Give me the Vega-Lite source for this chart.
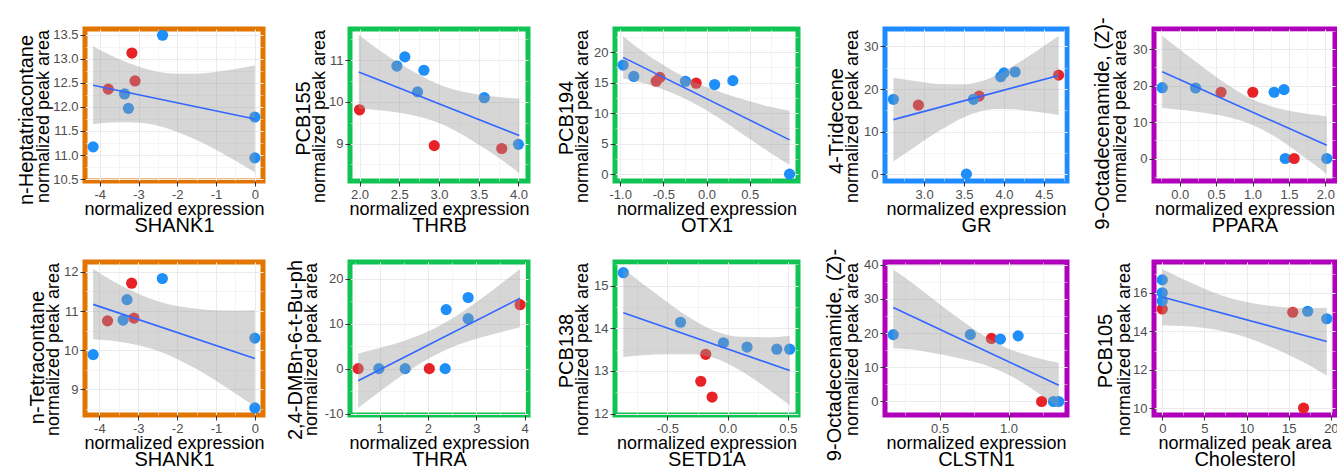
{
  "$schema": "https://vega.github.io/schema/vega-lite/v6.json",
  "background": "white",
  "padding": {"left": 13, "top": 14, "right": 5, "bottom": 5},
  "columns": 5,
  "spacing": {"row": 81, "column": 87},
  "bounds": "flush",
  "datasets": {
    "p1": [
      {"k":"pt","x":-4.17,"y":11.17,"g":"1"},{"k":"pt","x":-2.38,"y":13.49,"g":"1"},{"k":"pt","x":-3.36,"y":12.27,"g":"1"},{"k":"pt","x":-3.26,"y":11.97,"g":"1"},{"k":"pt","x":0,"y":11.79,"g":"1"},{"k":"pt","x":0,"y":10.94,"g":"1"},{"k":"pt","x":-3.17,"y":13.12,"g":"2"},{"k":"pt","x":-3.09,"y":12.54,"g":"2"},{"k":"pt","x":-3.78,"y":12.37,"g":"2"},
      {"k":"fit","x":-4.17,"y":12.45},{"k":"fit","x":0,"y":11.75},
      {"k":"band","x":-4.17,"lo":11.64,"hi":13.26},{"k":"band","x":-3.5,"lo":11.68,"hi":12.99},{"k":"band","x":-3.0,"lo":11.67,"hi":12.84},{"k":"band","x":-2.5,"lo":11.61,"hi":12.73},{"k":"band","x":-2.0,"lo":11.48,"hi":12.69},{"k":"band","x":-1.5,"lo":11.31,"hi":12.69},{"k":"band","x":-1.0,"lo":11.11,"hi":12.73},{"k":"band","x":-0.5,"lo":10.88,"hi":12.79},{"k":"band","x":0,"lo":10.64,"hi":12.86}
    ],
    "p2": [
      {"k":"pt","x":2.0,"y":9.81,"g":"2"},{"k":"pt","x":2.57,"y":11.08,"g":"1"},{"k":"pt","x":2.47,"y":10.86,"g":"1"},{"k":"pt","x":2.81,"y":10.76,"g":"1"},{"k":"pt","x":2.73,"y":10.24,"g":"1"},{"k":"pt","x":2.94,"y":8.95,"g":"2"},{"k":"pt","x":3.57,"y":10.10,"g":"1"},{"k":"pt","x":3.79,"y":8.88,"g":"2"},{"k":"pt","x":4.0,"y":8.98,"g":"1"},
      {"k":"fit","x":1.99,"y":10.72},{"k":"fit","x":4.01,"y":9.19},
      {"k":"band","x":1.99,"lo":9.84,"hi":11.61},{"k":"band","x":2.25,"lo":9.80,"hi":11.24},{"k":"band","x":2.5,"lo":9.74,"hi":10.93},{"k":"band","x":2.75,"lo":9.64,"hi":10.65},{"k":"band","x":3.0,"lo":9.49,"hi":10.42},{"k":"band","x":3.25,"lo":9.26,"hi":10.27},{"k":"band","x":3.5,"lo":8.97,"hi":10.18},{"k":"band","x":3.75,"lo":8.66,"hi":10.12},{"k":"band","x":4.01,"lo":8.29,"hi":10.08}
    ],
    "p3": [
      {"k":"pt","x":-0.966,"y":17.88,"g":"1"},{"k":"pt","x":-0.842,"y":16.02,"g":"1"},{"k":"pt","x":-0.583,"y":15.23,"g":"2"},{"k":"pt","x":-0.541,"y":15.86,"g":"2"},{"k":"pt","x":-0.244,"y":15.23,"g":"1"},{"k":"pt","x":-0.12,"y":14.91,"g":"2"},{"k":"pt","x":0.094,"y":14.69,"g":"1"},{"k":"pt","x":0.305,"y":15.33,"g":"1"},{"k":"pt","x":0.962,"y":0,"g":"1"},
      {"k":"fit","x":-0.966,"y":19.15},{"k":"fit","x":0.962,"y":5.62},
      {"k":"band","x":-0.966,"lo":15.7,"hi":22.6},{"k":"band","x":-0.75,"lo":15.04,"hi":20.22},{"k":"band","x":-0.5,"lo":13.87,"hi":17.89},{"k":"band","x":-0.25,"lo":12.38,"hi":15.86},{"k":"band","x":0,"lo":10.47,"hi":14.27},{"k":"band","x":0.25,"lo":8.21,"hi":13.03},{"k":"band","x":0.5,"lo":5.76,"hi":11.96},{"k":"band","x":0.75,"lo":3.4,"hi":11.0},{"k":"band","x":0.962,"lo":1.5,"hi":10.4}
    ],
    "p4": [
      {"k":"pt","x":2.615,"y":17.58,"g":"1"},{"k":"pt","x":2.928,"y":16.21,"g":"2"},{"k":"pt","x":3.53,"y":0,"g":"1"},{"k":"pt","x":3.69,"y":18.33,"g":"2"},{"k":"pt","x":3.618,"y":17.58,"g":"1"},{"k":"pt","x":3.96,"y":22.88,"g":"1"},{"k":"pt","x":4.0,"y":23.79,"g":"1"},{"k":"pt","x":4.14,"y":24.0,"g":"1"},{"k":"pt","x":4.685,"y":23.26,"g":"2"},
      {"k":"fit","x":2.615,"y":12.8},{"k":"fit","x":4.685,"y":23.18},
      {"k":"band","x":2.615,"lo":2.95,"hi":22.65},{"k":"band","x":2.9,"lo":6.62,"hi":21.84},{"k":"band","x":3.2,"lo":10.28,"hi":21.18},{"k":"band","x":3.5,"lo":13.39,"hi":21.09},{"k":"band","x":3.7,"lo":14.74,"hi":21.74},{"k":"band","x":3.9,"lo":15.28,"hi":23.2},{"k":"band","x":4.1,"lo":15.25,"hi":25.25},{"k":"band","x":4.4,"lo":14.67,"hi":28.83},{"k":"band","x":4.685,"lo":13.89,"hi":32.47}
    ],
    "p5": [
      {"k":"pt","x":-0.24,"y":19.41,"g":"1"},{"k":"pt","x":0.218,"y":19.32,"g":"1"},{"k":"pt","x":0.568,"y":18.17,"g":"2"},{"k":"pt","x":1.004,"y":18.17,"g":"2"},{"k":"pt","x":1.297,"y":18.17,"g":"1"},{"k":"pt","x":1.432,"y":18.88,"g":"1"},{"k":"pt","x":1.45,"y":0,"g":"1"},{"k":"pt","x":1.572,"y":0,"g":"2"},{"k":"pt","x":2.02,"y":0,"g":"1"},
      {"k":"fit","x":-0.24,"y":23.78},{"k":"fit","x":2.02,"y":3.65},
      {"k":"band","x":-0.24,"lo":13.94,"hi":33.62},{"k":"band","x":0.1,"lo":13.15,"hi":28.35},{"k":"band","x":0.4,"lo":12.31,"hi":23.85},{"k":"band","x":0.7,"lo":11.15,"hi":19.65},{"k":"band","x":1.0,"lo":9.22,"hi":16.24},{"k":"band","x":1.3,"lo":6.08,"hi":14.04},{"k":"band","x":1.6,"lo":2.02,"hi":12.74},{"k":"band","x":1.85,"lo":-1.67,"hi":11.99},{"k":"band","x":2.02,"lo":-4.25,"hi":11.55}
    ],
    "p6": [
      {"k":"pt","x":-4.16,"y":9.89,"g":"1"},{"k":"pt","x":-3.79,"y":10.75,"g":"2"},{"k":"pt","x":-3.39,"y":10.77,"g":"1"},{"k":"pt","x":-3.11,"y":10.82,"g":"2"},{"k":"pt","x":-3.29,"y":11.29,"g":"1"},{"k":"pt","x":-3.17,"y":11.71,"g":"2"},{"k":"pt","x":-2.38,"y":11.83,"g":"1"},{"k":"pt","x":0,"y":10.31,"g":"1"},{"k":"pt","x":0,"y":8.53,"g":"1"},
      {"k":"fit","x":-4.16,"y":11.17},{"k":"fit","x":0,"y":9.79},
      {"k":"band","x":-4.16,"lo":10.28,"hi":12.07},{"k":"band","x":-3.5,"lo":10.22,"hi":11.68},{"k":"band","x":-3.0,"lo":10.13,"hi":11.44},{"k":"band","x":-2.5,"lo":9.99,"hi":11.25},{"k":"band","x":-2.0,"lo":9.78,"hi":11.13},{"k":"band","x":-1.5,"lo":9.52,"hi":11.06},{"k":"band","x":-1.0,"lo":9.22,"hi":11.02},{"k":"band","x":-0.5,"lo":8.90,"hi":11.01},{"k":"band","x":0,"lo":8.57,"hi":11.02}
    ],
    "p7": [
      {"k":"pt","x":0.559,"y":0,"g":"2"},{"k":"pt","x":0.986,"y":0,"g":"1"},{"k":"pt","x":1.53,"y":0,"g":"1"},{"k":"pt","x":2.03,"y":0,"g":"2"},{"k":"pt","x":2.358,"y":0,"g":"1"},{"k":"pt","x":2.378,"y":13.16,"g":"1"},{"k":"pt","x":2.833,"y":15.85,"g":"1"},{"k":"pt","x":2.833,"y":11.13,"g":"1"},{"k":"pt","x":3.906,"y":14.25,"g":"2"},
      {"k":"fit","x":0.559,"y":-2.7},{"k":"fit","x":3.906,"y":15.71},
      {"k":"band","x":0.559,"lo":-8.77,"hi":3.37},{"k":"band","x":1.0,"lo":-5.13,"hi":4.58},{"k":"band","x":1.5,"lo":-1.22,"hi":6.18},{"k":"band","x":2.0,"lo":2.18,"hi":8.27},{"k":"band","x":2.5,"lo":4.77,"hi":11.18},{"k":"band","x":3.0,"lo":6.64,"hi":14.82},{"k":"band","x":3.5,"lo":8.13,"hi":18.83},{"k":"band","x":3.906,"lo":9.21,"hi":22.21}
    ],
    "p8": [
      {"k":"pt","x":-0.866,"y":15.30,"g":"1"},{"k":"pt","x":-0.391,"y":14.14,"g":"1"},{"k":"pt","x":-0.035,"y":13.66,"g":"1"},{"k":"pt","x":0.161,"y":13.56,"g":"1"},{"k":"pt","x":0.408,"y":13.51,"g":"1"},{"k":"pt","x":0.515,"y":13.51,"g":"1"},{"k":"pt","x":-0.182,"y":13.39,"g":"2"},{"k":"pt","x":-0.223,"y":12.76,"g":"2"},{"k":"pt","x":-0.129,"y":12.39,"g":"2"},
      {"k":"fit","x":-0.866,"y":14.36},{"k":"fit","x":0.515,"y":13.01},
      {"k":"band","x":-0.866,"lo":13.33,"hi":15.39},{"k":"band","x":-0.7,"lo":13.37,"hi":15.03},{"k":"band","x":-0.5,"lo":13.39,"hi":14.61},{"k":"band","x":-0.3,"lo":13.39,"hi":14.22},{"k":"band","x":-0.1,"lo":13.29,"hi":13.93},{"k":"band","x":0.1,"lo":13.02,"hi":13.80},{"k":"band","x":0.3,"lo":12.65,"hi":13.79},{"k":"band","x":0.515,"lo":12.2,"hi":13.82}
    ],
    "p9": [
      {"k":"pt","x":0.164,"y":19.57,"g":"1"},{"k":"pt","x":0.723,"y":19.57,"g":"1"},{"k":"pt","x":0.876,"y":18.44,"g":"2"},{"k":"pt","x":0.941,"y":18.25,"g":"1"},{"k":"pt","x":1.07,"y":19.2,"g":"1"},{"k":"pt","x":1.24,"y":0,"g":"2"},{"k":"pt","x":1.326,"y":0,"g":"1"},{"k":"pt","x":1.364,"y":0,"g":"1"},
      {"k":"fit","x":0.164,"y":27.52},{"k":"fit","x":1.364,"y":4.73},
      {"k":"band","x":0.164,"lo":15.6,"hi":38.6},{"k":"band","x":0.3,"lo":15.18,"hi":34.7},{"k":"band","x":0.45,"lo":14.16,"hi":30.02},{"k":"band","x":0.6,"lo":13.03,"hi":25.45},{"k":"band","x":0.75,"lo":11.62,"hi":21.16},{"k":"band","x":0.9,"lo":9.65,"hi":17.43},{"k":"band","x":1.05,"lo":6.72,"hi":14.66},{"k":"band","x":1.2,"lo":2.88,"hi":12.82},{"k":"band","x":1.364,"lo":-1.9,"hi":11.36}
    ],
    "p10": [
      {"k":"pt","x":0,"y":15.16,"g":"2"},{"k":"pt","x":0,"y":16.67,"g":"1"},{"k":"pt","x":0,"y":16.0,"g":"1"},{"k":"pt","x":0,"y":15.58,"g":"1"},{"k":"pt","x":15.48,"y":14.99,"g":"2"},{"k":"pt","x":17.25,"y":15.04,"g":"1"},{"k":"pt","x":19.51,"y":14.65,"g":"1"},{"k":"pt","x":16.76,"y":10.01,"g":"2"},
      {"k":"fit","x":0,"y":15.78},{"k":"fit","x":19.51,"y":13.47},
      {"k":"band","x":0,"lo":14.32,"hi":17.24},{"k":"band","x":2.5,"lo":14.27,"hi":16.70},{"k":"band","x":5,"lo":14.17,"hi":16.21},{"k":"band","x":7.5,"lo":13.98,"hi":15.80},{"k":"band","x":10,"lo":13.68,"hi":15.52},{"k":"band","x":12.5,"lo":13.26,"hi":15.34},{"k":"band","x":15,"lo":12.77,"hi":15.24},{"k":"band","x":17.5,"lo":12.22,"hi":15.20},{"k":"band","x":19.51,"lo":11.7,"hi":15.22}
    ]
  },
  "concat": [
    {
      "width": 178, "height": 152,
      "view": {"stroke": "#E17500", "strokeWidth": 5},
      "data": {"name": "p1"},
      "resolve": {"scale": {"x": "independent", "y": "independent"}},
      "layer": [
        {"transform": [{"filter": "datum.k === 'pt'"}],
         "mark": {"type": "circle", "size": 125, "opacity": 1},
         "encoding": {
           "x": {"field": "x", "type": "quantitative", "scale": {"domain": [-4.38, 0.21], "nice": false, "zero": false},
                 "axis": {"values": [-4,-3.5,-3,-2.5,-2,-1.5,-1,-0.5,0], "format": ".0f",
                          "labelExpr": "abs(datum.value - round(datum.value)) < 1e-6 ? replace(datum.label, '\u2212', '-') : ''",
                          "tickOpacity": {"condition": {"test": "abs(datum.value - round(datum.value)) < 1e-6", "value": 1}, "value": 0},
                          "gridWidth": {"condition": {"test": "abs(datum.value - round(datum.value)) < 1e-6", "value": 1}, "value": 0.5},
                          "title": "normalized expression", "titleY": 33.5, "titleBaseline": "alphabetic"}},
           "y": {"field": "y", "type": "quantitative", "scale": {"domain": [10.46, 13.62], "nice": false, "zero": false},
                 "axis": {"values": [10.5,10.75,11,11.25,11.5,11.75,12,12.25,12.5,12.75,13,13.25,13.5], "format": ".1f",
                          "labelExpr": "abs(datum.value * 2 - round(datum.value * 2)) < 1e-6 ? replace(datum.label, '\u2212', '-') : ''",
                          "tickOpacity": {"condition": {"test": "abs(datum.value * 2 - round(datum.value * 2)) < 1e-6", "value": 1}, "value": 0},
                          "gridWidth": {"condition": {"test": "abs(datum.value * 2 - round(datum.value * 2)) < 1e-6", "value": 1}, "value": 0.5},
                          "title": "normalized peak area", "titleAngle": 270, "titleX": -37, "titleY": 87, "titleBaseline": "alphabetic"}},
           "color": {"field": "g", "type": "nominal", "scale": {"domain": ["1","2"], "range": ["#1E8EF8","#E82327"]}, "legend": null}
         }},
        {"transform": [{"filter": "datum.k === 'band'"}],
         "mark": {"type": "area", "color": "#999999", "opacity": 0.4, "interpolate": "monotone"},
         "encoding": {
           "x": {"field": "x", "type": "quantitative", "scale": {"domain": [-4.38, 0.21], "nice": false, "zero": false},
                 "axis": {"orient": "bottom", "title": "SHANK1", "titleFontSize": 20, "titleY": 50, "titleBaseline": "alphabetic", "labels": false, "ticks": false, "grid": false, "domain": false}},
           "y": {"field": "lo", "type": "quantitative", "scale": {"domain": [10.46, 13.62], "nice": false, "zero": false},
                 "axis": {"orient": "left", "title": "n-Heptatriacontane", "titleFontSize": 20, "titleAngle": 270, "titleX": -53, "titleY": 90.5, "titleBaseline": "alphabetic", "labels": false, "ticks": false, "grid": false, "domain": false}},
           "y2": {"field": "hi"}
         }},
        {"transform": [{"filter": "datum.k === 'fit'"}],
         "mark": {"type": "line", "color": "#3366FF", "strokeWidth": 1.6},
         "encoding": {
           "x": {"field": "x", "type": "quantitative", "scale": {"domain": [-4.38, 0.21], "nice": false, "zero": false}, "axis": null},
           "y": {"field": "y", "type": "quantitative", "scale": {"domain": [10.46, 13.62], "nice": false, "zero": false}, "axis": null}
         }}
      ]
    },
    {
      "width": 178, "height": 152,
      "view": {"stroke": "#10C454", "strokeWidth": 5},
      "data": {"name": "p2"},
      "resolve": {"scale": {"x": "independent", "y": "independent"}},
      "layer": [
        {"transform": [{"filter": "datum.k === 'pt'"}],
         "mark": {"type": "circle", "size": 125, "opacity": 1},
         "encoding": {
           "x": {"field": "x", "type": "quantitative", "scale": {"domain": [1.88, 4.12], "nice": false, "zero": false},
                 "axis": {"values": [2,2.25,2.5,2.75,3,3.25,3.5,3.75,4], "format": ".1f",
                          "labelExpr": "abs(datum.value * 2 - round(datum.value * 2)) < 1e-6 ? replace(datum.label, '\u2212', '-') : ''",
                          "tickOpacity": {"condition": {"test": "abs(datum.value * 2 - round(datum.value * 2)) < 1e-6", "value": 1}, "value": 0},
                          "gridWidth": {"condition": {"test": "abs(datum.value * 2 - round(datum.value * 2)) < 1e-6", "value": 1}, "value": 0.5},
                          "title": "normalized expression", "titleY": 33.5, "titleBaseline": "alphabetic"}},
           "y": {"field": "y", "type": "quantitative", "scale": {"domain": [8.1, 11.75], "nice": false, "zero": false},
                 "axis": {"values": [8.5,9,9.5,10,10.5,11,11.5], "format": ".0f",
                          "labelExpr": "abs(datum.value - round(datum.value)) < 1e-6 ? replace(datum.label, '\u2212', '-') : ''",
                          "tickOpacity": {"condition": {"test": "abs(datum.value - round(datum.value)) < 1e-6", "value": 1}, "value": 0},
                          "gridWidth": {"condition": {"test": "abs(datum.value - round(datum.value)) < 1e-6", "value": 1}, "value": 0.5},
                          "title": "normalized peak area", "titleAngle": 270, "titleX": -26, "titleY": 87, "titleBaseline": "alphabetic"}},
           "color": {"field": "g", "type": "nominal", "scale": {"domain": ["1","2"], "range": ["#1E8EF8","#E82327"]}, "legend": null}
         }},
        {"transform": [{"filter": "datum.k === 'band'"}],
         "mark": {"type": "area", "color": "#999999", "opacity": 0.4, "interpolate": "monotone"},
         "encoding": {
           "x": {"field": "x", "type": "quantitative", "scale": {"domain": [1.88, 4.12], "nice": false, "zero": false},
                 "axis": {"orient": "bottom", "title": "THRB", "titleFontSize": 20, "titleY": 50, "titleBaseline": "alphabetic", "labels": false, "ticks": false, "grid": false, "domain": false}},
           "y": {"field": "lo", "type": "quantitative", "scale": {"domain": [8.1, 11.75], "nice": false, "zero": false},
                 "axis": {"orient": "left", "title": "PCB155", "titleFontSize": 20, "titleAngle": 270, "titleX": -41, "titleY": 89, "titleBaseline": "alphabetic", "labels": false, "ticks": false, "grid": false, "domain": false}},
           "y2": {"field": "hi"}
         }},
        {"transform": [{"filter": "datum.k === 'fit'"}],
         "mark": {"type": "line", "color": "#3366FF", "strokeWidth": 1.6},
         "encoding": {
           "x": {"field": "x", "type": "quantitative", "scale": {"domain": [1.88, 4.12], "nice": false, "zero": false}, "axis": null},
           "y": {"field": "y", "type": "quantitative", "scale": {"domain": [8.1, 11.75], "nice": false, "zero": false}, "axis": null}
         }}
      ]
    },
    {
      "width": 183, "height": 152,
      "view": {"stroke": "#10C454", "strokeWidth": 5},
      "data": {"name": "p3"},
      "resolve": {"scale": {"x": "independent", "y": "independent"}},
      "layer": [
        {"transform": [{"filter": "datum.k === 'pt'"}],
         "mark": {"type": "circle", "size": 125, "opacity": 1},
         "encoding": {
           "x": {"field": "x", "type": "quantitative", "scale": {"domain": [-1.06, 1.06], "nice": false, "zero": false},
                 "axis": {"values": [-1,-0.75,-0.5,-0.25,0,0.25,0.5,0.75], "format": ".1f",
                          "labelExpr": "abs(datum.value * 2 - round(datum.value * 2)) < 1e-6 ? replace(datum.label, '\u2212', '-') : ''",
                          "tickOpacity": {"condition": {"test": "abs(datum.value * 2 - round(datum.value * 2)) < 1e-6", "value": 1}, "value": 0},
                          "gridWidth": {"condition": {"test": "abs(datum.value * 2 - round(datum.value * 2)) < 1e-6", "value": 1}, "value": 0.5},
                          "title": "normalized expression", "titleY": 33.5, "titleBaseline": "alphabetic"}},
           "y": {"field": "y", "type": "quantitative", "scale": {"domain": [-1.13, 23.8], "nice": false, "zero": false},
                 "axis": {"values": [0,2.5,5,7.5,10,12.5,15,17.5,20,22.5], "format": ".0f",
                          "labelExpr": "abs(datum.value / 5 - round(datum.value / 5)) < 1e-6 ? replace(datum.label, '\u2212', '-') : ''",
                          "tickOpacity": {"condition": {"test": "abs(datum.value / 5 - round(datum.value / 5)) < 1e-6", "value": 1}, "value": 0},
                          "gridWidth": {"condition": {"test": "abs(datum.value / 5 - round(datum.value / 5)) < 1e-6", "value": 1}, "value": 0.5},
                          "title": "normalized peak area", "titleAngle": 270, "titleX": -27.5, "titleY": 87, "titleBaseline": "alphabetic"}},
           "color": {"field": "g", "type": "nominal", "scale": {"domain": ["1","2"], "range": ["#1E8EF8","#E82327"]}, "legend": null}
         }},
        {"transform": [{"filter": "datum.k === 'band'"}],
         "mark": {"type": "area", "color": "#999999", "opacity": 0.4, "interpolate": "monotone"},
         "encoding": {
           "x": {"field": "x", "type": "quantitative", "scale": {"domain": [-1.06, 1.06], "nice": false, "zero": false},
                 "axis": {"orient": "bottom", "title": "OTX1", "titleFontSize": 20, "titleY": 50, "titleBaseline": "alphabetic", "labels": false, "ticks": false, "grid": false, "domain": false}},
           "y": {"field": "lo", "type": "quantitative", "scale": {"domain": [-1.13, 23.8], "nice": false, "zero": false},
                 "axis": {"orient": "left", "title": "PCB194", "titleFontSize": 20, "titleAngle": 270, "titleX": -42.5, "titleY": 88.5, "titleBaseline": "alphabetic", "labels": false, "ticks": false, "grid": false, "domain": false}},
           "y2": {"field": "hi"}
         }},
        {"transform": [{"filter": "datum.k === 'fit'"}],
         "mark": {"type": "line", "color": "#3366FF", "strokeWidth": 1.6},
         "encoding": {
           "x": {"field": "x", "type": "quantitative", "scale": {"domain": [-1.06, 1.06], "nice": false, "zero": false}, "axis": null},
           "y": {"field": "y", "type": "quantitative", "scale": {"domain": [-1.13, 23.8], "nice": false, "zero": false}, "axis": null}
         }}
      ]
    },
    {
      "width": 182, "height": 152,
      "view": {"stroke": "#1E8CFF", "strokeWidth": 5},
      "data": {"name": "p4"},
      "resolve": {"scale": {"x": "independent", "y": "independent"}},
      "layer": [
        {"transform": [{"filter": "datum.k === 'pt'"}],
         "mark": {"type": "circle", "size": 125, "opacity": 1},
         "encoding": {
           "x": {"field": "x", "type": "quantitative", "scale": {"domain": [2.51, 4.79], "nice": false, "zero": false},
                 "axis": {"values": [2.75,3,3.25,3.5,3.75,4,4.25,4.5,4.75], "format": ".1f",
                          "labelExpr": "abs(datum.value * 2 - round(datum.value * 2)) < 1e-6 ? replace(datum.label, '\u2212', '-') : ''",
                          "tickOpacity": {"condition": {"test": "abs(datum.value * 2 - round(datum.value * 2)) < 1e-6", "value": 1}, "value": 0},
                          "gridWidth": {"condition": {"test": "abs(datum.value * 2 - round(datum.value * 2)) < 1e-6", "value": 1}, "value": 0.5},
                          "title": "normalized expression", "titleY": 33.5, "titleBaseline": "alphabetic"}},
           "y": {"field": "y", "type": "quantitative", "scale": {"domain": [-1.62, 34.1], "nice": false, "zero": false},
                 "axis": {"values": [0,5,10,15,20,25,30], "format": ".0f",
                          "labelExpr": "abs(datum.value / 10 - round(datum.value / 10)) < 1e-6 ? replace(datum.label, '\u2212', '-') : ''",
                          "tickOpacity": {"condition": {"test": "abs(datum.value / 10 - round(datum.value / 10)) < 1e-6", "value": 1}, "value": 0},
                          "gridWidth": {"condition": {"test": "abs(datum.value / 10 - round(datum.value / 10)) < 1e-6", "value": 1}, "value": 0.5},
                          "title": "normalized peak area", "titleAngle": 270, "titleX": -27.5, "titleY": 87, "titleBaseline": "alphabetic"}},
           "color": {"field": "g", "type": "nominal", "scale": {"domain": ["1","2"], "range": ["#1E8EF8","#E82327"]}, "legend": null}
         }},
        {"transform": [{"filter": "datum.k === 'band'"}],
         "mark": {"type": "area", "color": "#999999", "opacity": 0.4, "interpolate": "monotone"},
         "encoding": {
           "x": {"field": "x", "type": "quantitative", "scale": {"domain": [2.51, 4.79], "nice": false, "zero": false},
                 "axis": {"orient": "bottom", "title": "GR", "titleFontSize": 20, "titleY": 50, "titleBaseline": "alphabetic", "labels": false, "ticks": false, "grid": false, "domain": false}},
           "y": {"field": "lo", "type": "quantitative", "scale": {"domain": [-1.62, 34.1], "nice": false, "zero": false},
                 "axis": {"orient": "left", "title": "4-Tridecene", "titleFontSize": 20, "titleAngle": 270, "titleX": -42.5, "titleY": 91.5, "titleBaseline": "alphabetic", "labels": false, "ticks": false, "grid": false, "domain": false}},
           "y2": {"field": "hi"}
         }},
        {"transform": [{"filter": "datum.k === 'fit'"}],
         "mark": {"type": "line", "color": "#3366FF", "strokeWidth": 1.6},
         "encoding": {
           "x": {"field": "x", "type": "quantitative", "scale": {"domain": [2.51, 4.79], "nice": false, "zero": false}, "axis": null},
           "y": {"field": "y", "type": "quantitative", "scale": {"domain": [-1.62, 34.1], "nice": false, "zero": false}, "axis": null}
         }}
      ]
    },
    {
      "width": 181, "height": 152,
      "view": {"stroke": "#B000BB", "strokeWidth": 5},
      "data": {"name": "p5"},
      "resolve": {"scale": {"x": "independent", "y": "independent"}},
      "layer": [
        {"transform": [{"filter": "datum.k === 'pt'"}],
         "mark": {"type": "circle", "size": 125, "opacity": 1},
         "encoding": {
           "x": {"field": "x", "type": "quantitative", "scale": {"domain": [-0.353, 2.133], "nice": false, "zero": false},
                 "axis": {"values": [-0.25,0,0.25,0.5,0.75,1,1.25,1.5,1.75,2], "format": ".1f",
                          "labelExpr": "abs(datum.value * 2 - round(datum.value * 2)) < 1e-6 ? replace(datum.label, '\u2212', '-') : ''",
                          "tickOpacity": {"condition": {"test": "abs(datum.value * 2 - round(datum.value * 2)) < 1e-6", "value": 1}, "value": 0},
                          "gridWidth": {"condition": {"test": "abs(datum.value * 2 - round(datum.value * 2)) < 1e-6", "value": 1}, "value": 0.5},
                          "title": "normalized expression", "titleY": 33.5, "titleBaseline": "alphabetic"}},
           "y": {"field": "y", "type": "quantitative", "scale": {"domain": [-6.16, 35.5], "nice": false, "zero": false},
                 "axis": {"values": [-5,0,5,10,15,20,25,30,35], "format": ".0f",
                          "labelExpr": "abs(datum.value / 10 - round(datum.value / 10)) < 1e-6 ? replace(datum.label, '\u2212', '-') : ''",
                          "tickOpacity": {"condition": {"test": "abs(datum.value / 10 - round(datum.value / 10)) < 1e-6", "value": 1}, "value": 0},
                          "gridWidth": {"condition": {"test": "abs(datum.value / 10 - round(datum.value / 10)) < 1e-6", "value": 1}, "value": 0.5},
                          "title": "normalized peak area", "titleAngle": 270, "titleX": -29, "titleY": 87, "titleBaseline": "alphabetic"}},
           "color": {"field": "g", "type": "nominal", "scale": {"domain": ["1","2"], "range": ["#1E8EF8","#E82327"]}, "legend": null}
         }},
        {"transform": [{"filter": "datum.k === 'band'"}],
         "mark": {"type": "area", "color": "#999999", "opacity": 0.4, "interpolate": "monotone"},
         "encoding": {
           "x": {"field": "x", "type": "quantitative", "scale": {"domain": [-0.353, 2.133], "nice": false, "zero": false},
                 "axis": {"orient": "bottom", "title": "PPARA", "titleFontSize": 20, "titleY": 50, "titleBaseline": "alphabetic", "labels": false, "ticks": false, "grid": false, "domain": false}},
           "y": {"field": "lo", "type": "quantitative", "scale": {"domain": [-6.16, 35.5], "nice": false, "zero": false},
                 "axis": {"orient": "left", "title": "9-Octadecenamide, (Z)-", "titleFontSize": 20, "titleAngle": 270, "titleX": -46, "titleY": 94, "titleBaseline": "alphabetic", "labels": false, "ticks": false, "grid": false, "domain": false}},
           "y2": {"field": "hi"}
         }},
        {"transform": [{"filter": "datum.k === 'fit'"}],
         "mark": {"type": "line", "color": "#3366FF", "strokeWidth": 1.6},
         "encoding": {
           "x": {"field": "x", "type": "quantitative", "scale": {"domain": [-0.353, 2.133], "nice": false, "zero": false}, "axis": null},
           "y": {"field": "y", "type": "quantitative", "scale": {"domain": [-6.16, 35.5], "nice": false, "zero": false}, "axis": null}
         }}
      ]
    },
    {
      "width": 178, "height": 153,
      "view": {"stroke": "#E17500", "strokeWidth": 5},
      "data": {"name": "p6"},
      "resolve": {"scale": {"x": "independent", "y": "independent"}},
      "layer": [
        {"transform": [{"filter": "datum.k === 'pt'"}],
         "mark": {"type": "circle", "size": 125, "opacity": 1},
         "encoding": {
           "x": {"field": "x", "type": "quantitative", "scale": {"domain": [-4.37, 0.21], "nice": false, "zero": false},
                 "axis": {"values": [-4,-3.5,-3,-2.5,-2,-1.5,-1,-0.5,0], "format": ".0f",
                          "labelExpr": "abs(datum.value - round(datum.value)) < 1e-6 ? replace(datum.label, '\u2212', '-') : ''",
                          "tickOpacity": {"condition": {"test": "abs(datum.value - round(datum.value)) < 1e-6", "value": 1}, "value": 0},
                          "gridWidth": {"condition": {"test": "abs(datum.value - round(datum.value)) < 1e-6", "value": 1}, "value": 0.5},
                          "title": "normalized expression", "titleY": 33.5, "titleBaseline": "alphabetic"}},
           "y": {"field": "y", "type": "quantitative", "scale": {"domain": [8.35, 12.25], "nice": false, "zero": false},
                 "axis": {"values": [8.5,9,9.5,10,10.5,11,11.5,12], "format": ".0f",
                          "labelExpr": "abs(datum.value - round(datum.value)) < 1e-6 ? replace(datum.label, '\u2212', '-') : ''",
                          "tickOpacity": {"condition": {"test": "abs(datum.value - round(datum.value)) < 1e-6", "value": 1}, "value": 0},
                          "gridWidth": {"condition": {"test": "abs(datum.value - round(datum.value)) < 1e-6", "value": 1}, "value": 0.5},
                          "title": "normalized peak area", "titleAngle": 270, "titleX": -26.5, "titleY": 87, "titleBaseline": "alphabetic"}},
           "color": {"field": "g", "type": "nominal", "scale": {"domain": ["1","2"], "range": ["#1E8EF8","#E82327"]}, "legend": null}
         }},
        {"transform": [{"filter": "datum.k === 'band'"}],
         "mark": {"type": "area", "color": "#999999", "opacity": 0.4, "interpolate": "monotone"},
         "encoding": {
           "x": {"field": "x", "type": "quantitative", "scale": {"domain": [-4.37, 0.21], "nice": false, "zero": false},
                 "axis": {"orient": "bottom", "title": "SHANK1", "titleFontSize": 20, "titleY": 50, "titleBaseline": "alphabetic", "labels": false, "ticks": false, "grid": false, "domain": false}},
           "y": {"field": "lo", "type": "quantitative", "scale": {"domain": [8.35, 12.25], "nice": false, "zero": false},
                 "axis": {"orient": "left", "title": "n-Tetracontane", "titleFontSize": 20, "titleAngle": 270, "titleX": -42, "titleY": 95, "titleBaseline": "alphabetic", "labels": false, "ticks": false, "grid": false, "domain": false}},
           "y2": {"field": "hi"}
         }},
        {"transform": [{"filter": "datum.k === 'fit'"}],
         "mark": {"type": "line", "color": "#3366FF", "strokeWidth": 1.6},
         "encoding": {
           "x": {"field": "x", "type": "quantitative", "scale": {"domain": [-4.37, 0.21], "nice": false, "zero": false}, "axis": null},
           "y": {"field": "y", "type": "quantitative", "scale": {"domain": [8.35, 12.25], "nice": false, "zero": false}, "axis": null}
         }}
      ]
    },
    {
      "width": 178, "height": 153,
      "view": {"stroke": "#10C454", "strokeWidth": 5},
      "data": {"name": "p7"},
      "resolve": {"scale": {"x": "independent", "y": "independent"}},
      "layer": [
        {"transform": [{"filter": "datum.k === 'pt'"}],
         "mark": {"type": "circle", "size": 125, "opacity": 1},
         "encoding": {
           "x": {"field": "x", "type": "quantitative", "scale": {"domain": [0.39, 4.07], "nice": false, "zero": false},
                 "axis": {"values": [0.5,1,1.5,2,2.5,3,3.5,4], "format": ".0f",
                          "labelExpr": "abs(datum.value - round(datum.value)) < 1e-6 ? replace(datum.label, '\u2212', '-') : ''",
                          "tickOpacity": {"condition": {"test": "abs(datum.value - round(datum.value)) < 1e-6", "value": 1}, "value": 0},
                          "gridWidth": {"condition": {"test": "abs(datum.value - round(datum.value)) < 1e-6", "value": 1}, "value": 0.5},
                          "title": "normalized expression", "titleY": 33.5, "titleBaseline": "alphabetic"}},
           "y": {"field": "y", "type": "quantitative", "scale": {"domain": [-10.32, 23.76], "nice": false, "zero": false},
                 "axis": {"values": [-10,-5,0,5,10,15,20], "format": ".0f",
                          "labelExpr": "abs(datum.value / 10 - round(datum.value / 10)) < 1e-6 ? replace(datum.label, '\u2212', '-') : ''",
                          "tickOpacity": {"condition": {"test": "abs(datum.value / 10 - round(datum.value / 10)) < 1e-6", "value": 1}, "value": 0},
                          "gridWidth": {"condition": {"test": "abs(datum.value / 10 - round(datum.value / 10)) < 1e-6", "value": 1}, "value": 0.5},
                          "title": "normalized peak area", "titleAngle": 270, "titleX": -33.5, "titleY": 87, "titleBaseline": "alphabetic"}},
           "color": {"field": "g", "type": "nominal", "scale": {"domain": ["1","2"], "range": ["#1E8EF8","#E82327"]}, "legend": null}
         }},
        {"transform": [{"filter": "datum.k === 'band'"}],
         "mark": {"type": "area", "color": "#999999", "opacity": 0.4, "interpolate": "monotone"},
         "encoding": {
           "x": {"field": "x", "type": "quantitative", "scale": {"domain": [0.39, 4.07], "nice": false, "zero": false},
                 "axis": {"orient": "bottom", "title": "THRA", "titleFontSize": 20, "titleY": 50, "titleBaseline": "alphabetic", "labels": false, "ticks": false, "grid": false, "domain": false}},
           "y": {"field": "lo", "type": "quantitative", "scale": {"domain": [-10.32, 23.76], "nice": false, "zero": false},
                 "axis": {"orient": "left", "title": "2,4-DMBn-6-t-Bu-ph", "titleFontSize": 20, "titleAngle": 270, "titleX": -49, "titleY": 87.5, "titleBaseline": "alphabetic", "labels": false, "ticks": false, "grid": false, "domain": false}},
           "y2": {"field": "hi"}
         }},
        {"transform": [{"filter": "datum.k === 'fit'"}],
         "mark": {"type": "line", "color": "#3366FF", "strokeWidth": 1.6},
         "encoding": {
           "x": {"field": "x", "type": "quantitative", "scale": {"domain": [0.39, 4.07], "nice": false, "zero": false}, "axis": null},
           "y": {"field": "y", "type": "quantitative", "scale": {"domain": [-10.32, 23.76], "nice": false, "zero": false}, "axis": null}
         }}
      ]
    },
    {
      "width": 183, "height": 153,
      "view": {"stroke": "#10C454", "strokeWidth": 5},
      "data": {"name": "p8"},
      "resolve": {"scale": {"x": "independent", "y": "independent"}},
      "layer": [
        {"transform": [{"filter": "datum.k === 'pt'"}],
         "mark": {"type": "circle", "size": 125, "opacity": 1},
         "encoding": {
           "x": {"field": "x", "type": "quantitative", "scale": {"domain": [-0.935, 0.584], "nice": false, "zero": false},
                 "axis": {"values": [-0.75,-0.5,-0.25,0,0.25,0.5], "format": ".1f",
                          "labelExpr": "abs(datum.value * 2 - round(datum.value * 2)) < 1e-6 ? replace(datum.label, '\u2212', '-') : ''",
                          "tickOpacity": {"condition": {"test": "abs(datum.value * 2 - round(datum.value * 2)) < 1e-6", "value": 1}, "value": 0},
                          "gridWidth": {"condition": {"test": "abs(datum.value * 2 - round(datum.value * 2)) < 1e-6", "value": 1}, "value": 0.5},
                          "title": "normalized expression", "titleY": 33.5, "titleBaseline": "alphabetic"}},
           "y": {"field": "y", "type": "quantitative", "scale": {"domain": [11.97, 15.55], "nice": false, "zero": false},
                 "axis": {"values": [12,12.5,13,13.5,14,14.5,15,15.5], "format": ".0f",
                          "labelExpr": "abs(datum.value - round(datum.value)) < 1e-6 ? replace(datum.label, '\u2212', '-') : ''",
                          "tickOpacity": {"condition": {"test": "abs(datum.value - round(datum.value)) < 1e-6", "value": 1}, "value": 0},
                          "gridWidth": {"condition": {"test": "abs(datum.value - round(datum.value)) < 1e-6", "value": 1}, "value": 0.5},
                          "title": "normalized peak area", "titleAngle": 270, "titleX": -27.5, "titleY": 87, "titleBaseline": "alphabetic"}},
           "color": {"field": "g", "type": "nominal", "scale": {"domain": ["1","2"], "range": ["#1E8EF8","#E82327"]}, "legend": null}
         }},
        {"transform": [{"filter": "datum.k === 'band'"}],
         "mark": {"type": "area", "color": "#999999", "opacity": 0.4, "interpolate": "monotone"},
         "encoding": {
           "x": {"field": "x", "type": "quantitative", "scale": {"domain": [-0.935, 0.584], "nice": false, "zero": false},
                 "axis": {"orient": "bottom", "title": "SETD1A", "titleFontSize": 20, "titleY": 50, "titleBaseline": "alphabetic", "labels": false, "ticks": false, "grid": false, "domain": false}},
           "y": {"field": "lo", "type": "quantitative", "scale": {"domain": [11.97, 15.55], "nice": false, "zero": false},
                 "axis": {"orient": "left", "title": "PCB138", "titleFontSize": 20, "titleAngle": 270, "titleX": -42.5, "titleY": 88.5, "titleBaseline": "alphabetic", "labels": false, "ticks": false, "grid": false, "domain": false}},
           "y2": {"field": "hi"}
         }},
        {"transform": [{"filter": "datum.k === 'fit'"}],
         "mark": {"type": "line", "color": "#3366FF", "strokeWidth": 1.6},
         "encoding": {
           "x": {"field": "x", "type": "quantitative", "scale": {"domain": [-0.935, 0.584], "nice": false, "zero": false}, "axis": null},
           "y": {"field": "y", "type": "quantitative", "scale": {"domain": [11.97, 15.55], "nice": false, "zero": false}, "axis": null}
         }}
      ]
    },
    {
      "width": 182, "height": 153,
      "view": {"stroke": "#B000BB", "strokeWidth": 5},
      "data": {"name": "p9"},
      "resolve": {"scale": {"x": "independent", "y": "independent"}},
      "layer": [
        {"transform": [{"filter": "datum.k === 'pt'"}],
         "mark": {"type": "circle", "size": 125, "opacity": 1},
         "encoding": {
           "x": {"field": "x", "type": "quantitative", "scale": {"domain": [0.104, 1.424], "nice": false, "zero": false},
                 "axis": {"values": [0.25,0.5,0.75,1,1.25], "format": ".1f",
                          "labelExpr": "abs(datum.value * 2 - round(datum.value * 2)) < 1e-6 ? replace(datum.label, '\u2212', '-') : ''",
                          "tickOpacity": {"condition": {"test": "abs(datum.value * 2 - round(datum.value * 2)) < 1e-6", "value": 1}, "value": 0},
                          "gridWidth": {"condition": {"test": "abs(datum.value * 2 - round(datum.value * 2)) < 1e-6", "value": 1}, "value": 0.5},
                          "title": "normalized expression", "titleY": 33.5, "titleBaseline": "alphabetic"}},
           "y": {"field": "y", "type": "quantitative", "scale": {"domain": [-3.95, 40.8], "nice": false, "zero": false},
                 "axis": {"values": [0,5,10,15,20,25,30,35,40], "format": ".0f",
                          "labelExpr": "abs(datum.value / 10 - round(datum.value / 10)) < 1e-6 ? replace(datum.label, '\u2212', '-') : ''",
                          "tickOpacity": {"condition": {"test": "abs(datum.value / 10 - round(datum.value / 10)) < 1e-6", "value": 1}, "value": 0},
                          "gridWidth": {"condition": {"test": "abs(datum.value / 10 - round(datum.value / 10)) < 1e-6", "value": 1}, "value": 0.5},
                          "title": "normalized peak area", "titleAngle": 270, "titleX": -28, "titleY": 87, "titleBaseline": "alphabetic"}},
           "color": {"field": "g", "type": "nominal", "scale": {"domain": ["1","2"], "range": ["#1E8EF8","#E82327"]}, "legend": null}
         }},
        {"transform": [{"filter": "datum.k === 'band'"}],
         "mark": {"type": "area", "color": "#999999", "opacity": 0.4, "interpolate": "monotone"},
         "encoding": {
           "x": {"field": "x", "type": "quantitative", "scale": {"domain": [0.104, 1.424], "nice": false, "zero": false},
                 "axis": {"orient": "bottom", "title": "CLSTN1", "titleFontSize": 20, "titleY": 50, "titleBaseline": "alphabetic", "labels": false, "ticks": false, "grid": false, "domain": false}},
           "y": {"field": "lo", "type": "quantitative", "scale": {"domain": [-3.95, 40.8], "nice": false, "zero": false},
                 "axis": {"orient": "left", "title": "9-Octadecenamide, (Z)-", "titleFontSize": 20, "titleAngle": 270, "titleX": -45, "titleY": 92.5, "titleBaseline": "alphabetic", "labels": false, "ticks": false, "grid": false, "domain": false}},
           "y2": {"field": "hi"}
         }},
        {"transform": [{"filter": "datum.k === 'fit'"}],
         "mark": {"type": "line", "color": "#3366FF", "strokeWidth": 1.6},
         "encoding": {
           "x": {"field": "x", "type": "quantitative", "scale": {"domain": [0.104, 1.424], "nice": false, "zero": false}, "axis": null},
           "y": {"field": "y", "type": "quantitative", "scale": {"domain": [-3.95, 40.8], "nice": false, "zero": false}, "axis": null}
         }}
      ]
    },
    {
      "width": 181, "height": 153,
      "view": {"stroke": "#B000BB", "strokeWidth": 5},
      "data": {"name": "p10"},
      "resolve": {"scale": {"x": "independent", "y": "independent"}},
      "layer": [
        {"transform": [{"filter": "datum.k === 'pt'"}],
         "mark": {"type": "circle", "size": 125, "opacity": 1},
         "encoding": {
           "x": {"field": "x", "type": "quantitative", "scale": {"domain": [-0.98, 20.49], "nice": false, "zero": false},
                 "axis": {"values": [0,2.5,5,7.5,10,12.5,15,17.5,20], "format": ".0f",
                          "labelExpr": "abs(datum.value / 5 - round(datum.value / 5)) < 1e-6 ? replace(datum.label, '\u2212', '-') : ''",
                          "tickOpacity": {"condition": {"test": "abs(datum.value / 5 - round(datum.value / 5)) < 1e-6", "value": 1}, "value": 0},
                          "gridWidth": {"condition": {"test": "abs(datum.value / 5 - round(datum.value / 5)) < 1e-6", "value": 1}, "value": 0.5},
                          "title": "normalized peak area", "titleY": 33.5, "titleBaseline": "alphabetic"}},
           "y": {"field": "y", "type": "quantitative", "scale": {"domain": [9.65, 17.6], "nice": false, "zero": false},
                 "axis": {"values": [10,11,12,13,14,15,16,17], "format": ".0f",
                          "labelExpr": "abs(datum.value / 2 - round(datum.value / 2)) < 1e-6 ? replace(datum.label, '\u2212', '-') : ''",
                          "tickOpacity": {"condition": {"test": "abs(datum.value / 2 - round(datum.value / 2)) < 1e-6", "value": 1}, "value": 0},
                          "gridWidth": {"condition": {"test": "abs(datum.value / 2 - round(datum.value / 2)) < 1e-6", "value": 1}, "value": 0.5},
                          "title": "normalized peak area", "titleAngle": 270, "titleX": -25, "titleY": 87, "titleBaseline": "alphabetic"}},
           "color": {"field": "g", "type": "nominal", "scale": {"domain": ["1","2"], "range": ["#1E8EF8","#E82327"]}, "legend": null}
         }},
        {"transform": [{"filter": "datum.k === 'band'"}],
         "mark": {"type": "area", "color": "#999999", "opacity": 0.4, "interpolate": "monotone"},
         "encoding": {
           "x": {"field": "x", "type": "quantitative", "scale": {"domain": [-0.98, 20.49], "nice": false, "zero": false},
                 "axis": {"orient": "bottom", "title": "Cholesterol", "titleFontSize": 20, "titleY": 50, "titleBaseline": "alphabetic", "labels": false, "ticks": false, "grid": false, "domain": false}},
           "y": {"field": "lo", "type": "quantitative", "scale": {"domain": [9.65, 17.6], "nice": false, "zero": false},
                 "axis": {"orient": "left", "title": "PCB105", "titleFontSize": 20, "titleAngle": 270, "titleX": -42.3, "titleY": 88.5, "titleBaseline": "alphabetic", "labels": false, "ticks": false, "grid": false, "domain": false}},
           "y2": {"field": "hi"}
         }},
        {"transform": [{"filter": "datum.k === 'fit'"}],
         "mark": {"type": "line", "color": "#3366FF", "strokeWidth": 1.6},
         "encoding": {
           "x": {"field": "x", "type": "quantitative", "scale": {"domain": [-0.98, 20.49], "nice": false, "zero": false}, "axis": null},
           "y": {"field": "y", "type": "quantitative", "scale": {"domain": [9.65, 17.6], "nice": false, "zero": false}, "axis": null}
         }}
      ]
    }
  ],
  "config": {
    "font": "Liberation Sans",
    "view": {"stroke": null},
    "axis": {
      "labelFont": "Liberation Sans", "labelFontSize": 13, "labelColor": "#4d4d4d",
      "labelPadding": 2, "labelFlush": false, "labelOverlap": false,
      "tickColor": "#333333", "tickSize": 5, "tickWidth": 1,
      "domain": false, "gridColor": "#ebebeb",
      "titleFont": "Liberation Sans", "titleFontSize": 18, "titleFontWeight": "normal", "titleColor": "#000000"
    }
  }
}
